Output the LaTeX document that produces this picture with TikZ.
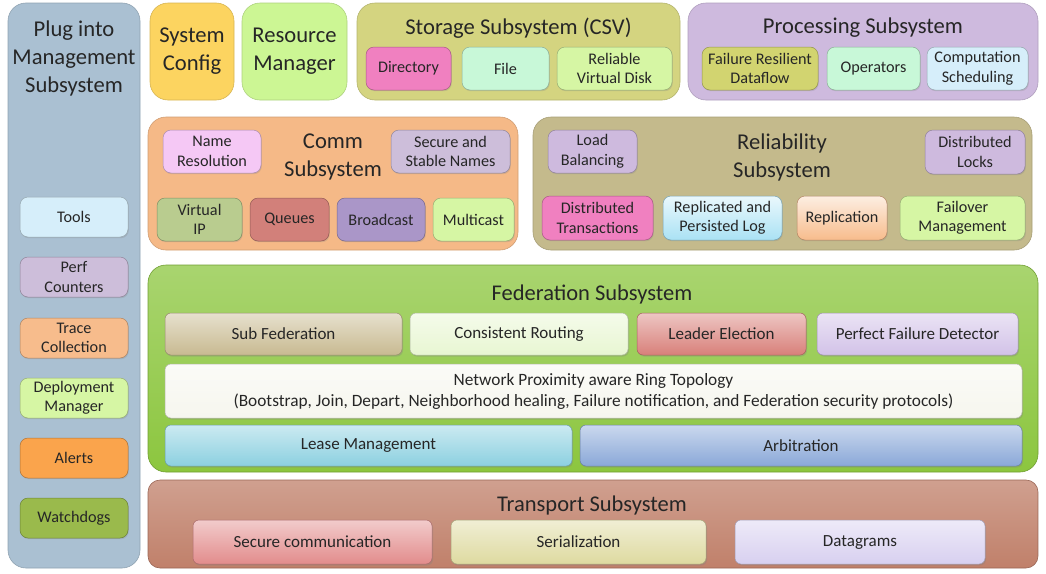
\documentclass[tikz,border=0pt]{standalone}
\usepackage{fontspec}
\setmainfont{Carlito}
\usetikzlibrary{shapes.geometric, shadows}
\usetikzlibrary{positioning}
\tikzstyle{bigtitle}=[align=center, text=black!85, inner sep=0pt,
					font=\fontsize{22.6}{28}\selectfont]
\definecolor{mgmtblue}{RGB}{170,192,210}
\definecolor{toolsblue}{RGB}{214,238,250}
\definecolor{lavender}{RGB}{205,190,218}
\definecolor{peach}{RGB}{247,188,140}
\definecolor{lightlime}{RGB}{214,246,164}
\definecolor{alertorange}{RGB}{250,164,76}
\definecolor{olivegreen}{RGB}{154,186,76}
\definecolor{configyellow}{RGB}{252,212,96}
\definecolor{resgreen}{RGB}{204,246,148}
\definecolor{storageolive}{RGB}{212,212,128}
\definecolor{hotpink}{RGB}{240,128,192}
\definecolor{mint}{RGB}{200,248,216}
\definecolor{procviolet}{RGB}{206,186,222}
\definecolor{mustard}{RGB}{210,212,112}
\definecolor{commpeach}{RGB}{245,185,135}
\definecolor{lilac}{RGB}{245,200,245}
\definecolor{sage}{RGB}{185,204,143}
\definecolor{brickred}{RGB}{210,128,122}
\definecolor{purple}{RGB}{170,150,200}
\definecolor{khaki}{RGB}{196,186,140}
\definecolor{skyblue}{RGB}{170,226,244}
\definecolor{fedgreen}{RGB}{140,198,63}
\definecolor{tan}{RGB}{200,186,145}
\definecolor{paleleaf}{RGB}{232,246,210}
\definecolor{salmon}{RGB}{216,128,122}
\definecolor{periwinkle}{RGB}{210,194,232}
\definecolor{cream}{RGB}{246,246,238}
\definecolor{leaseblue}{RGB}{140,208,224}
\definecolor{steelblue}{RGB}{138,168,216}
\definecolor{rust}{RGB}{192,128,106}
\definecolor{rosered}{RGB}{226,140,140}
\definecolor{sand}{RGB}{222,218,160}
\definecolor{palelilac}{RGB}{216,208,240}

\begin{document}
\begin{tikzpicture}[x=1pt, y=-1pt,
 boxsize/.style 2 args={minimum width=#1pt, minimum height=#2pt},
 panelnode/.style={rounded corners=18pt, fill=#1, draw=#1!85!black, line width=0.6pt, inner sep=0pt},
 shadepanel/.style={rounded corners=18pt, top color=#1!75!white, bottom color=#1, draw=#1!80!black, line width=0.6pt, inner sep=0pt},
 roundbox/.style={rounded corners=8pt, fill=#1, draw=#1!70!black, line width=0.5pt,
   drop shadow={opacity=0.25, shadow xshift=0.8pt, shadow yshift=-1.2pt},
   align=center, inner sep=1pt, text=black!85, font=\fontsize{16.2}{19.5}\selectfont},
 fadebox/.style={roundbox=#1, top color=#1!25!white, bottom color=#1},
 glossbox/.style={rounded corners=6pt, top color=#1!45!white, bottom color=#1, draw=#1!75!black, line width=0.5pt,
   drop shadow={opacity=0.3, shadow xshift=1pt, shadow yshift=-1.5pt},
   align=center, inner sep=1pt, text=black!85, font=\fontsize{17}{21}\selectfont},
 midtitle/.style={text=black!85, inner sep=0pt, font=\fontsize{22.5}{26}\selectfont},
 ]
 \useasboundingbox (0,0) rectangle (1046,573);

 %Management column
 \node[panelnode=mgmtblue, boxsize={132}{565}] (mgmt_node) at (74,285.5) {};
 \node[bigtitle] (mgmt_title) at (74,58) {Plug into\\Management\\Subsystem};
 \node[roundbox=toolsblue, boxsize={108}{40}]    (tools_node)   at (74,217) {Tools};
 \node[roundbox=lavender, boxsize={108}{40}]     (perf_node)    at (74,277) {Perf\\Counters};
 \node[roundbox=peach, boxsize={108}{40}]        (trace_node)   at (74,338) {Trace\\Collection};
 \node[roundbox=lightlime, boxsize={108}{40}]    (deploy_node)  at (74,398) {Deployment\\Manager};
 \node[roundbox=alertorange, boxsize={108}{40}]  (alerts_node)  at (74,458) {Alerts};
 \node[roundbox=olivegreen, boxsize={108}{40}]   (watch_node)   at (74,518) {Watchdogs};

 %Top row
 \node[panelnode=configyellow, boxsize={84}{97}, bigtitle] (config_node)   at (192,51.5) {System\\Config};
 \node[panelnode=resgreen, boxsize={105}{97}, bigtitle]    (resource_node) at (294.5,51.5) {Resource\\Manager};

 \node[panelnode=storageolive, boxsize={323}{97}] (storage_node) at (518.5,51.5) {};
 \node[bigtitle] (storage_title) at (518.5,28) {Storage Subsystem (CSV)};
 \node[roundbox=hotpink, boxsize={85}{43}]    (directory_node) at (408.5,68.5) {Directory};
 \node[roundbox=mint, boxsize={87}{43}]       (file_node)      at (505.5,68.5) {File};
 \node[roundbox=lightlime, boxsize={115}{43}] (disk_node)      at (614.5,68.5) {Reliable\\Virtual Disk};

 \node[panelnode=procviolet, boxsize={350}{97}] (processing_node) at (863,51.5) {};
 \node[bigtitle] (processing_title) at (863,28) {Processing Subsystem};
 \node[roundbox=mustard, boxsize={116}{43}]   (dataflow_node)  at (760,68.5) {Failure Resilient\\Dataflow};
 \node[roundbox=mint, boxsize={93}{43}]       (operators_node) at (873.5,68.5) {Operators};
 \node[roundbox=toolsblue, boxsize={101}{43}] (schedule_node)  at (977.5,68.5) {Computation\\Scheduling};

 %Comm and Reliability
 \node[panelnode=commpeach, boxsize={370}{133}] (comm_node) at (333,183.5) {};
 \node[bigtitle] (comm_title) at (333,157) {Comm\\Subsystem};
 \node[roundbox=lilac, boxsize={98}{43}]      (nameres_node) at (212,151.5) {Name\\Resolution};
 \node[roundbox=lavender, boxsize={119}{43}]  (stable_node)  at (450.5,151.5) {Secure and\\Stable Names};
 \node[roundbox=sage, boxsize={85}{43}]       (vip_node)     at (199.5,219.5) {Virtual\\IP};
 \node[roundbox=brickred, boxsize={79}{43}]   (queues_node)  at (289.5,219.5) {Queues};
 \node[roundbox=purple, boxsize={88}{43}]     (bcast_node)   at (381,219.5) {Broadcast};
 \node[roundbox=lightlime, boxsize={81}{43}]  (mcast_node)   at (473.5,219.5) {Multicast};

 \node[panelnode=khaki, boxsize={499}{133}] (reliab_node) at (782.5,183.5) {};
 \node[bigtitle] (reliab_title) at (782,157) {Reliability\\Subsystem};
 \node[roundbox=procviolet, boxsize={89}{43}]  (loadbal_node) at (592.5,151.5) {Load\\Balancing};
 \node[roundbox=procviolet, boxsize={100}{44}] (locks_node)   at (975,152) {Distributed\\Locks};
 \node[roundbox=hotpink, boxsize={111}{44}]    (trans_node)   at (597.5,218) {Distributed\\Transactions};
 \node[fadebox=skyblue, boxsize={119}{44}]     (replog_node)  at (722.5,218) {Replicated and\\Persisted Log};
 \node[fadebox=peach, boxsize={90}{44}]        (replic_node)  at (842,218) {Replication};
 \node[roundbox=lightlime, boxsize={125}{44}]  (failover_node) at (962.5,218) {Failover\\Management};

 %Federation
 \node[shadepanel=fedgreen, boxsize={890}{207}] (fed_node) at (593,368.5) {};
 \node[midtitle] (fed_title) at (592,294) {Federation Subsystem};
 \node[glossbox=tan, boxsize={237}{42}]        (subfed_node)  at (283.5,334) {Sub Federation};
 \node[glossbox=paleleaf, boxsize={218}{42}]   (routing_node) at (519,334) {Consistent Routing};
 \node[glossbox=salmon, boxsize={169}{42}]     (leader_node)  at (721.5,334) {Leader Election};
 \node[glossbox=periwinkle, boxsize={201}{42}] (detect_node)  at (917.5,334) {Perfect Failure Detector};
 \node[glossbox=cream, boxsize={857}{54}, font=\fontsize{17.3}{21}\selectfont] (ring_node) at (593.5,391)
   {Network Proximity aware Ring Topology\\(Bootstrap, Join, Depart, Neighborhood healing, Failure notification, and Federation security protocols)};
 \node[glossbox=leaseblue, boxsize={407}{41}]  (lease_node)   at (368.5,445.5) {Lease Management};
 \node[glossbox=steelblue, boxsize={442}{41}]  (arbit_node)   at (801,445.5) {Arbitration};

 %Transport
 \node[shadepanel=rust, boxsize={890}{88}, rounded corners=12pt] (transport_node) at (593,524) {};
 \node[midtitle] (transport_title) at (592,505) {Transport Subsystem};
 \node[glossbox=rosered, boxsize={239}{44}]   (securecomm_node) at (312.5,542) {Secure communication};
 \node[glossbox=sand, boxsize={255}{44}]      (serial_node)     at (578.5,542) {Serialization};
 \node[glossbox=palelilac, boxsize={250}{44}] (datagram_node)   at (860,542) {Datagrams};
\end{tikzpicture}
\end{document}
